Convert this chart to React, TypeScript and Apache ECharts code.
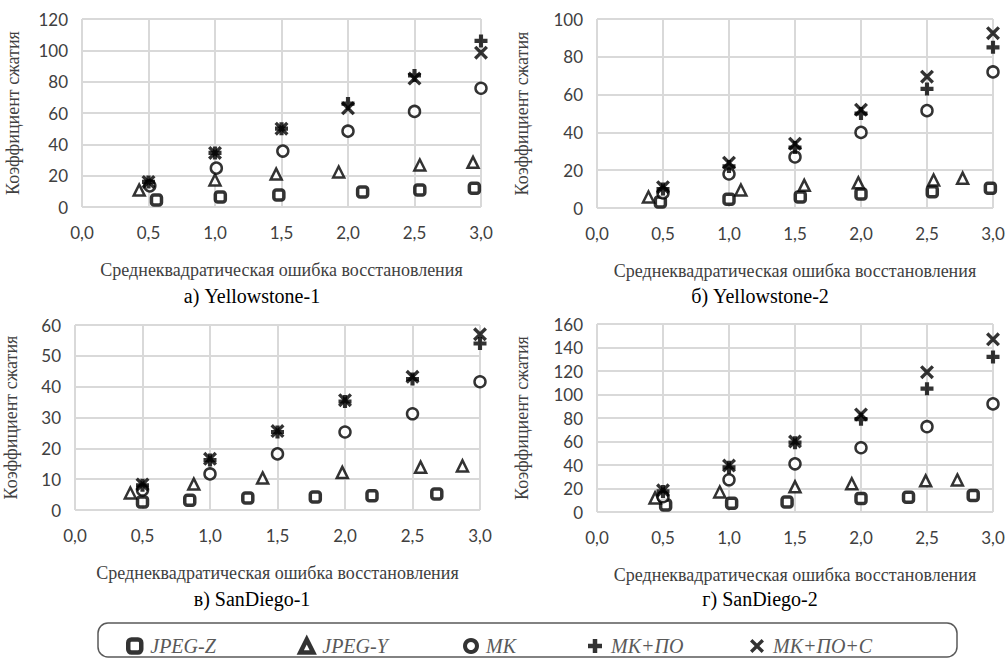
import React, { useEffect, useRef } from "react";
import * as echarts from "echarts";

// ---- data ----
const seriesNames = ["JPEG-Z", "JPEG-Y", "МК", "МК+ПО", "МК+ПО+С"];
const captions = ["а) Yellowstone-1", "б) Yellowstone-2", "в) SanDiego-1", "г) SanDiego-2"];
const xAxisTitle = "Среднеквадратическая ошибка восстановления";
const yAxisTitle = "Коэффициент сжатия";
const yMaxes = [120, 100, 60, 160];
const yIntervals = [20, 20, 10, 20];

// а) Yellowstone-1
const y1JpegZ = [[0.56, 4.5], [1.04, 6.4], [1.48, 7.6], [2.11, 9.6], [2.54, 10.8], [2.95, 12]];
const y1JpegY = [[0.43, 10.8], [1.0, 17.2], [1.46, 21], [1.93, 22.3], [2.54, 26.8], [2.94, 28.5]];
const y1MK = [[0.51, 13.5], [1.01, 24.8], [1.51, 35.7], [2.0, 48.4], [2.5, 61], [3.0, 75.8]];
const y1MKPO = [[0.5, 16], [1.0, 34.5], [1.5, 50], [2.0, 66], [2.5, 84], [3.0, 106]];
const y1MKPOC = [[0.5, 16], [1.0, 34.5], [1.5, 50], [2.0, 63], [2.5, 82], [3.0, 98.5]];

// б) Yellowstone-2
const y2JpegZ = [[0.48, 3.2], [1.0, 4.6], [1.54, 5.8], [2.0, 7.4], [2.54, 8.6], [2.98, 10.4]];
const y2JpegY = [[0.39, 5.8], [1.09, 9.5], [1.57, 12], [1.98, 13.3], [2.55, 14.8], [2.77, 15.8]];
const y2MK = [[0.5, 8], [1.0, 18], [1.5, 27], [2.0, 40], [2.5, 51.5], [3.0, 72]];
const y2MKPO = [[0.5, 10], [1.0, 22], [1.5, 32], [2.0, 50], [2.5, 63], [3.0, 85]];
const y2MKPOC = [[0.5, 11], [1.0, 24], [1.5, 34], [2.0, 52], [2.5, 69.5], [3.0, 92.5]];

// в) SanDiego-1
const s1JpegZ = [[0.5, 2.6], [0.85, 3.2], [1.28, 3.9], [1.78, 4.2], [2.2, 4.6], [2.68, 5.2]];
const s1JpegY = [[0.41, 5.5], [0.88, 8.4], [1.39, 10.4], [1.98, 12.2], [2.56, 13.9], [2.87, 14.3]];
const s1MK = [[0.5, 6.5], [1.0, 11.7], [1.5, 18.2], [2.0, 25.3], [2.5, 31.2], [3.0, 41.6]];
const s1MKPO = [[0.5, 8], [1.0, 16.2], [1.5, 25.3], [2.0, 35.2], [2.5, 42.5], [3.0, 54]];
const s1MKPOC = [[0.5, 8.3], [1.0, 16.6], [1.5, 25.6], [2.0, 35.6], [2.5, 43.2], [3.0, 57]];

// г) SanDiego-2
const s2JpegZ = [[0.52, 6], [1.02, 7.5], [1.44, 8.5], [2.0, 11.5], [2.36, 12.5], [2.85, 14]];
const s2JpegY = [[0.44, 12], [0.93, 17], [1.5, 21.4], [1.93, 24], [2.49, 26.5], [2.73, 27.3]];
const s2MK = [[0.5, 13], [1.0, 27.4], [1.5, 41], [2.0, 54.7], [2.5, 72.6], [3.0, 92]];
const s2MKPO = [[0.5, 17.5], [1.0, 38], [1.5, 59], [2.0, 79], [2.5, 105], [3.0, 132]];
const s2MKPOC = [[0.5, 18.5], [1.0, 39.5], [1.5, 60], [2.0, 83], [2.5, 119], [3.0, 147]];

const panels = [
  [y1JpegZ, y1JpegY, y1MK, y1MKPO, y1MKPOC],
  [y2JpegZ, y2JpegY, y2MK, y2MKPO, y2MKPOC],
  [s1JpegZ, s1JpegY, s1MK, s1MKPO, s1MKPOC],
  [s2JpegZ, s2JpegY, s2MK, s2MKPO, s2MKPOC],
];

// ---- layout ----
const grids = [
  { left: 82, top: 19, width: 399, height: 188, yNameGap: 60, cx: 252, cy: 296 },
  { left: 597, top: 19, width: 396, height: 189, yNameGap: 66, cx: 760, cy: 296 },
  { left: 75, top: 325, width: 405, height: 185, yNameGap: 55, cx: 252, cy: 599 },
  { left: 597, top: 324, width: 396, height: 188, yNameGap: 66, cx: 760, cy: 599 },
];

const PLUS = "path://M3.4,0H6.6V3.4H10V6.6H6.6V10H3.4V6.6H0V3.4H3.4Z";
const CROSS =
  "path://M0,1.7L1.7,0L5,3.3L8.3,0L10,1.7L6.7,5L10,8.3L8.3,10L5,6.7L1.7,10L0,8.3L3.3,5Z";

const markerStyles: any[] = [
  { symbol: "roundRect", symbolSize: 10, itemStyle: { color: "#fff", borderColor: "#000", borderWidth: 3.5 } },
  { symbol: "triangle", symbolSize: 11, itemStyle: { color: "#fff", borderColor: "#000", borderWidth: 2.5 } },
  { symbol: "circle", symbolSize: 11, itemStyle: { color: "#fff", borderColor: "#000", borderWidth: 2.5 } },
  { symbol: PLUS, symbolSize: 13, itemStyle: { color: "#000", borderWidth: 0 } },
  { symbol: CROSS, symbolSize: 14, itemStyle: { color: "#000", borderWidth: 0 } },
];
const legendIconBorders = [4.5, 4.5, 4, 0, 0];
const legendIconSizes = [13, 13, 12, 14, 14];
const legendLefts = [121, 293, 458, 583, 745];

const gridColor = "#d9d9d9";
const serif = "Liberation Serif";
const sans = "Lato";

function buildOption(): any {
  const series: any[] = [];
  panels.forEach((panel, pi) => {
    panel.forEach((data, si) => {
      series.push({
        type: "scatter",
        name: seriesNames[si],
        xAxisIndex: pi,
        yAxisIndex: pi,
        data,
        ...markerStyles[si],
        z: 2 + si,
      });
    });
  });

  return {
    animation: false,
    backgroundColor: "#fff",
    grid: grids.map((g) => ({ left: g.left, top: g.top, width: g.width, height: g.height, containLabel: false })),
    xAxis: grids.map((g, i) => ({
      type: "value",
      gridIndex: i,
      min: 0,
      max: 3,
      interval: 0.5,
      name: xAxisTitle,
      nameLocation: "middle",
      nameGap: 54,
      nameTextStyle: { fontFamily: serif, fontSize: 18, color: "#404040" },
      axisLine: { show: false },
      axisTick: { show: false },
      axisLabel: {
        margin: 17,
        fontFamily: sans,
        fontSize: 17,
        color: "#404040",
        formatter: (v: number) => v.toFixed(1).replace(".", ","),
      },
      splitLine: { show: true, lineStyle: { color: gridColor, width: 2 } },
    })),
    yAxis: grids.map((g, i) => ({
      type: "value",
      gridIndex: i,
      min: 0,
      max: yMaxes[i],
      interval: yIntervals[i],
      name: yAxisTitle,
      nameLocation: "middle",
      nameGap: g.yNameGap,
      nameTextStyle: { fontFamily: serif, fontSize: 18, color: "#404040" },
      axisLine: { show: false },
      axisTick: { show: false },
      axisLabel: { margin: 14, fontFamily: sans, fontSize: 17, color: "#404040" },
      splitLine: { show: true, lineStyle: { color: gridColor, width: 2 } },
    })),
    legend: seriesNames.map((n, i) => ({
      data: [n],
      left: legendLefts[i],
      top: 631,
      itemWidth: legendIconSizes[i],
      itemHeight: legendIconSizes[i],
      selectedMode: false,
      itemStyle: { borderWidth: legendIconBorders[i] },
      textStyle: {
        fontFamily: serif,
        fontStyle: "italic",
        fontSize: 20,
        color: "#595959",
        padding: [0, 0, 0, 4],
      },
    })),
    graphic: [
      ...grids.map((g, i) => ({
        type: "text",
        x: g.cx,
        y: g.cy,
        style: {
          text: captions[i],
          fontFamily: serif,
          fontSize: 20,
          fill: "#000",
          textAlign: "center",
          textVerticalAlign: "middle",
        },
      })),
      {
        type: "rect",
        z: -1,
        shape: { x: 98, y: 623, width: 859, height: 34, r: 10 },
        style: { fill: "none", stroke: "#595959", lineWidth: 1.5 },
      },
    ],
    series,
  };
}

export default function App() {
  const ref = useRef<HTMLDivElement>(null);
  useEffect(() => {
    if (!ref.current) return;
    const chart = echarts.init(ref.current, undefined, { renderer: "svg" });
    chart.setOption(buildOption());
    return () => chart.dispose();
  }, []);
  return (
    <div
      ref={ref}
      style={{ position: "absolute", left: 0, top: 0, width: 1008, height: 659, background: "#fff" }}
    />
  );
}
